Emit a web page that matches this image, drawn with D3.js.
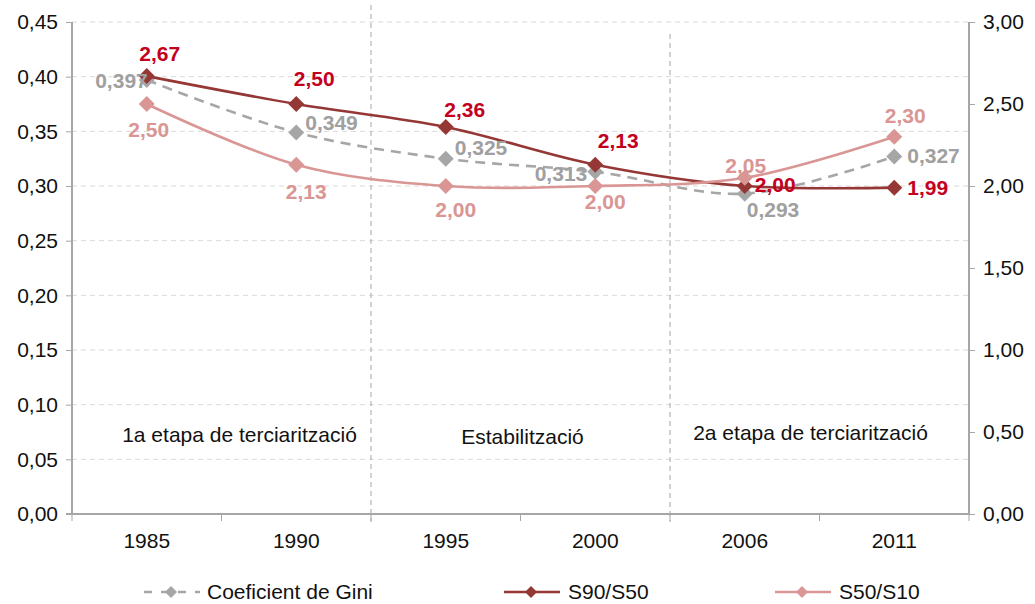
<!DOCTYPE html>
<html lang="ca">
  <head>
    <meta charset="utf-8" />
    <title>Desigualtat</title>
    <style>
      body { margin: 0; background: #fff; }
      svg { font-family: "Liberation Sans", Arial, sans-serif; }
    </style>
  </head>
  <body>
    <div id="chart"></div>
    <script src="https://d3js.org/d3.v7.min.js"></script>
    <script>
      // data
      var years = ["1985", "1990", "1995", "2000", "2006", "2011"];
      var gini = [0.397, 0.349, 0.325, 0.313, 0.293, 0.327];
      var s90s50 = [2.67, 2.5, 2.36, 2.13, 2.0, 1.99];
      var s50s10 = [2.5, 2.13, 2.0, 2.0, 2.05, 2.3];
      var leftTicks = [0, 0.05, 0.1, 0.15, 0.2, 0.25, 0.3, 0.35, 0.4, 0.45];
      var rightTicks = [0, 0.5, 1, 1.5, 2, 2.5, 3];
      var periods = ["1a etapa de terciarització", "Estabilització", "2a etapa de terciarització"];
      var periodStart = ["1985", "1995", "2006"];
      var legendNames = ["Coeficient de Gini", "S90/S50", "S50/S10"];

      var width = 1035, height = 604;
      var margin = { top: 22, right: 66, bottom: 90, left: 72 };
      var w = width - margin.left - margin.right,
        h = height - margin.top - margin.bottom;
      var fs = 21;

      var fmt2 = function (v) { return d3.format(".2f")(v).replace(".", ","); };
      var fmt3 = function (v) { return d3.format(".3f")(v).replace(".", ","); };

      var svg = d3.select("#chart").append("svg")
        .attr("width", width)
        .attr("height", height);
      var g = svg.append("g")
        .attr("transform", "translate(" + margin.left + "," + margin.top + ")");

      var x = d3.scaleBand().domain(years).range([0, w]).padding(0);
      var yL = d3.scaleLinear().domain([0, 0.45]).range([h, 0]);
      var yR = d3.scaleLinear().domain([0, 3]).range([h, 0]);
      var cx = function (d) { return x(d) + x.bandwidth() / 2; };

      var axisColor = "#a6a6a6";

      // grid
      g.selectAll(".grid")
        .data(leftTicks.slice(1))
        .enter()
        .append("line")
        .attr("x1", 0)
        .attr("x2", w)
        .attr("y1", function (d) { return yL(d); })
        .attr("y2", function (d) { return yL(d); })
        .attr("stroke", "#d9d9d9")
        .attr("stroke-width", 1)
        .attr("stroke-dasharray", "5,4");

      // period separators
      var sepTop = [-17, 12];
      g.selectAll(".sep")
        .data(periodStart.slice(1))
        .enter()
        .append("line")
        .attr("x1", function (d) { return x(d); })
        .attr("x2", function (d) { return x(d); })
        .attr("y1", function (d, i) { return sepTop[i]; })
        .attr("y2", h + 8)
        .attr("stroke", "#a6a6a6")
        .attr("stroke-width", 1)
        .attr("stroke-dasharray", "5,4");

      // period labels
      var periodEnd = [x("1995"), x("2006"), w];
      var periodDy = [420, 422, 418];
      g.selectAll(".period")
        .data(periods)
        .enter()
        .append("text")
        .attr("x", function (d, i) { return (x(periodStart[i]) + periodEnd[i]) / 2 + (i === 0 ? 18 : i === 2 ? -9 : 2); })
        .attr("y", function (d, i) { return periodDy[i]; })
        .attr("text-anchor", "middle")
        .attr("font-size", fs)
        .attr("fill", "#111")
        .text(function (d) { return d; });

      // axes
      var leftAxis = d3.axisLeft(yL).tickValues(leftTicks).tickSize(6).tickPadding(8)
        .tickFormat(fmt2);
      var rightAxis = d3.axisRight(yR).tickValues(rightTicks).tickSize(6).tickPadding(8)
        .tickFormat(fmt2);
      var bottomAxis = d3.axisBottom(x).tickSize(0).tickPadding(19);

      function styleAxis(sel) {
        sel.select(".domain").attr("stroke", axisColor).attr("stroke-width", 2);
        sel.selectAll(".tick line").attr("stroke", axisColor).attr("stroke-width", 1);
        sel.selectAll("text").attr("font-size", fs).attr("fill", "#111")
          .attr("font-family", "Liberation Sans, Arial, sans-serif");
      }

      g.append("g").call(leftAxis).call(styleAxis)
        .select(".domain").attr("d", "M0," + h + "V0");
      g.append("g").attr("transform", "translate(" + w + ",0)").call(rightAxis).call(styleAxis)
        .select(".domain").attr("d", "M0," + h + "V0");
      var xa = g.append("g").attr("transform", "translate(0," + h + ")").call(bottomAxis).call(styleAxis);
      xa.select(".domain").attr("d", "M-6,0H" + w);
      xa.selectAll(".tick text").attr("dy", "0.71em");
      // boundary ticks
      xa.selectAll(".bnd")
        .data(years.concat(["end"]))
        .enter()
        .append("line")
        .attr("x1", function (d) { return d === "end" ? w : x(d); })
        .attr("x2", function (d) { return d === "end" ? w : x(d); })
        .attr("y1", 0)
        .attr("y2", 7)
        .attr("stroke", axisColor);

      // series
      var series = [
        { name: legendNames[0], values: gini, y: yL, color: "#a6a6a6", label: "#a0a0a0", dash: "10,7", fmt: fmt3,
          off: [[1, 8, "end"], [9, -2, "start"], [9, -4, "start"], [-8, 9, "end"], [2, 23, "start"], [13, 7, "start"]] },
        { name: legendNames[1], values: s90s50, y: yR, color: "#953735", label: "#c4001f", dash: null, fmt: fmt2,
          off: [[13, -15, "middle"], [18, -18, "middle"], [19, -10, "middle"], [23, -17, "middle"], [10, 6, "start"], [13, 7, "start"]] },
        { name: legendNames[2], values: s50s10, y: yR, color: "#d99694", label: "#d99694", dash: null, fmt: fmt2,
          off: [[2, 33, "middle"], [10, 34, "middle"], [10, 31, "middle"], [10, 23, "middle"], [1, -5, "middle"], [11, -14, "middle"]] }
      ];

      var diamond = function (r) { return "M0," + -r + "L" + r + ",0L0," + r + "L" + -r + ",0Z"; };

      series.forEach(function (s) {
        var line = d3.line()
          .x(function (d, i) { return cx(years[i]); })
          .y(function (d) { return s.y(d); })
          .curve(d3.curveCatmullRom.alpha(0.5));
        g.append("path")
          .datum(s.values)
          .attr("d", line)
          .attr("fill", "none")
          .attr("stroke", s.color)
          .attr("stroke-width", 2.6)
          .attr("stroke-dasharray", s.dash);
        g.selectAll(null)
          .data(s.values)
          .enter()
          .append("path")
          .attr("d", diamond(8))
          .attr("transform", function (d, i) { return "translate(" + cx(years[i]) + "," + s.y(d) + ")"; })
          .attr("fill", s.color);
      });

      series.forEach(function (s) {
        g.selectAll(null)
          .data(s.values)
          .enter()
          .append("text")
          .attr("x", function (d, i) { return cx(years[i]) + s.off[i][0]; })
          .attr("y", function (d, i) { return s.y(d) + s.off[i][1]; })
          .attr("text-anchor", function (d, i) { return s.off[i][2]; })
          .attr("font-size", fs)
          .attr("font-weight", "bold")
          .attr("fill", s.label)
          .text(function (d) { return s.fmt(d); });
      });

      // legend
      var legX = [144, 504, 775];
      var legend = svg.selectAll(".legend")
        .data(series)
        .enter()
        .append("g")
        .attr("transform", function (d, i) { return "translate(" + legX[i] + ",592)"; });
      legend.append("line")
        .attr("x1", 0)
        .attr("x2", 56)
        .attr("stroke", function (d) { return d.color; })
        .attr("stroke-width", 2.6)
        .attr("stroke-dasharray", function (d) { return d.dash ? "8,9" : null; });
      legend.append("path")
        .attr("d", diamond(6))
        .attr("transform", "translate(27,0)")
        .attr("fill", function (d) { return d.color; });
      legend.append("text")
        .attr("x", function (d, i) { return i === 0 ? 63 : 64; })
        .attr("y", 7)
        .attr("font-size", fs)
        .attr("fill", "#111")
        .text(function (d) { return d.name; });
    </script>
  </body>
</html>
